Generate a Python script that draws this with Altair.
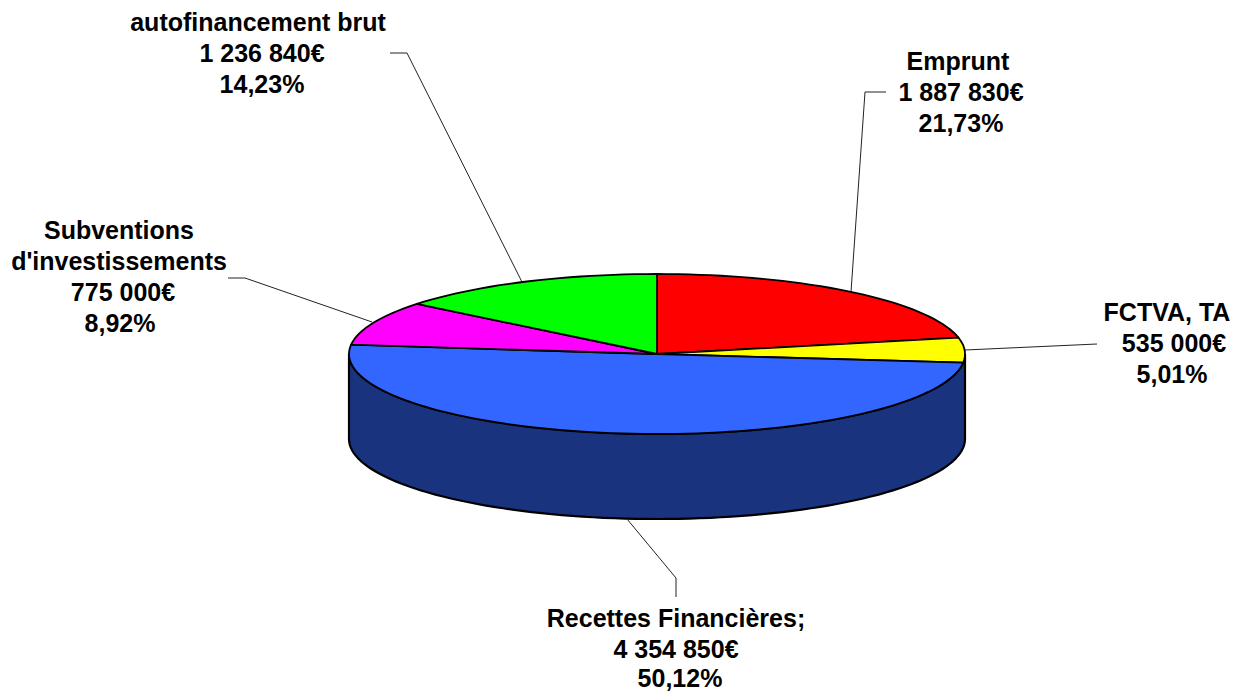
import math
import altair as alt
import pandas as pd

# --- chart values ---
categories = ["Emprunt", "FCTVA, TA", "Recettes Financières;", "Subventions d'investissements", "autofinancement brut"]
percents = [21.73, 5.01, 50.12, 8.92, 14.23]
amounts = ["1 887 830€", "535 000€", "4 354 850€", "775 000€", "1 236 840€"]
percent_labels = ["21,73%", "5,01%", "50,12%", "8,92%", "14,23%"]
title_lines = [["Emprunt"], ["FCTVA, TA"], ["Recettes Financières;"], ["Subventions", "d'investissements"], ["autofinancement brut"]]

# --- styles and layout ---
colors = ["#FF0000", "#FFFF00", "#3366FF", "#FF00FF", "#00FF00"]
wall_color = "#1A337F"
CX, CY, RX, RY, DEPTH = 657, 354, 308, 80, 85
label_x = [958, 1172, 676, 119, 258]
label_top = [62, 313, 619, 231, 23]
title_dx = [0, -5, 0, 0, 0]
amount_dx = [3, 2, 0, 4, 4]
percent_dx = [3, 0, 4, 1, 4]
percent_dy = [0, 0, -2, 0, 0]
LINE_H = 31
leaders = [
    [(886, 92), (865, 92), (851, 292)],
    [(1097, 344), (965, 350)],
    [(676, 597), (676, 578), (627, 519)],
    [(228, 278), (245, 278), (372, 322)],
    [(390, 53), (407, 53), (522, 282)],
]

X = alt.X("x:Q", axis=None, scale=alt.Scale(domain=[8, 1231], range=[0, 1223], nice=False, zero=False))
Y = alt.Y("y:Q", axis=None, scale=alt.Scale(domain=[692, 8], range=[684, 0], nice=False, zero=False))


def ell(deg, dy=0):
    a = math.radians(deg)
    return CX + RX * math.sin(a), CY - RY * math.cos(a) + dy


def poly(points, fill, width=1.8):
    rows = [{"x": p[0], "y": p[1], "i": i} for i, p in enumerate(points)]
    rows.append({**rows[0], "i": len(points)})
    return (
        alt.Chart(pd.DataFrame(rows))
        .mark_line(fill=fill, stroke="black", strokeWidth=width, interpolate="linear", strokeJoin="round", clip=False)
        .encode(x=X, y=Y, order="i:Q")
    )


layers = []
# side wall of the disc
top_edge = [ell(d) for d in range(90, 271, 2)]
bottom_edge = [ell(d, DEPTH) for d in range(270, 89, -2)]
layers.append(poly(top_edge + bottom_edge, wall_color, 2.2))

# leader lines sit behind the pie
for k, pts in enumerate(leaders):
    df = pd.DataFrame([{"x": p[0], "y": p[1], "i": i} for i, p in enumerate(pts)])
    layers.append(alt.Chart(df).mark_line(color="#222222", strokeWidth=1).encode(x=X, y=Y, order="i:Q"))

# top face wedges
start = 0.0
total = sum(percents)
for pct, col in zip(percents, colors):
    end = start + pct / total * 360
    n = max(4, int((end - start) / 2))
    arc = [ell(start + (end - start) * i / n) for i in range(n + 1)]
    layers.append(poly([(CX, CY)] + arc, col, 1.8))
    start = end

# labels
rows = []
for k in range(len(categories)):
    titles = title_lines[k]
    for j, t in enumerate(titles):
        dx = title_dx[k] if j == 0 else 0
        rows.append({"x": label_x[k] + dx, "y": label_top[k] + j * LINE_H, "t": t})
    n = len(titles)
    rows.append({"x": label_x[k] + amount_dx[k], "y": label_top[k] + n * LINE_H, "t": amounts[k]})
    rows.append({"x": label_x[k] + percent_dx[k], "y": label_top[k] + (n + 1) * LINE_H + percent_dy[k], "t": percent_labels[k]})
layers.append(
    alt.Chart(pd.DataFrame(rows))
    .mark_text(font="Liberation Sans", fontSize=25, fontWeight="bold", color="black", align="center", baseline="middle")
    .encode(x=X, y=Y, text="t:N")
)

chart = (
    alt.layer(*layers)
    .properties(width=1223, height=684, padding=0, autosize=alt.AutoSizeParams(type="none"), background="white")
    .configure_view(stroke=None)
)
chart.save("out.html", embed_options={"renderer": "svg", "actions": False})
